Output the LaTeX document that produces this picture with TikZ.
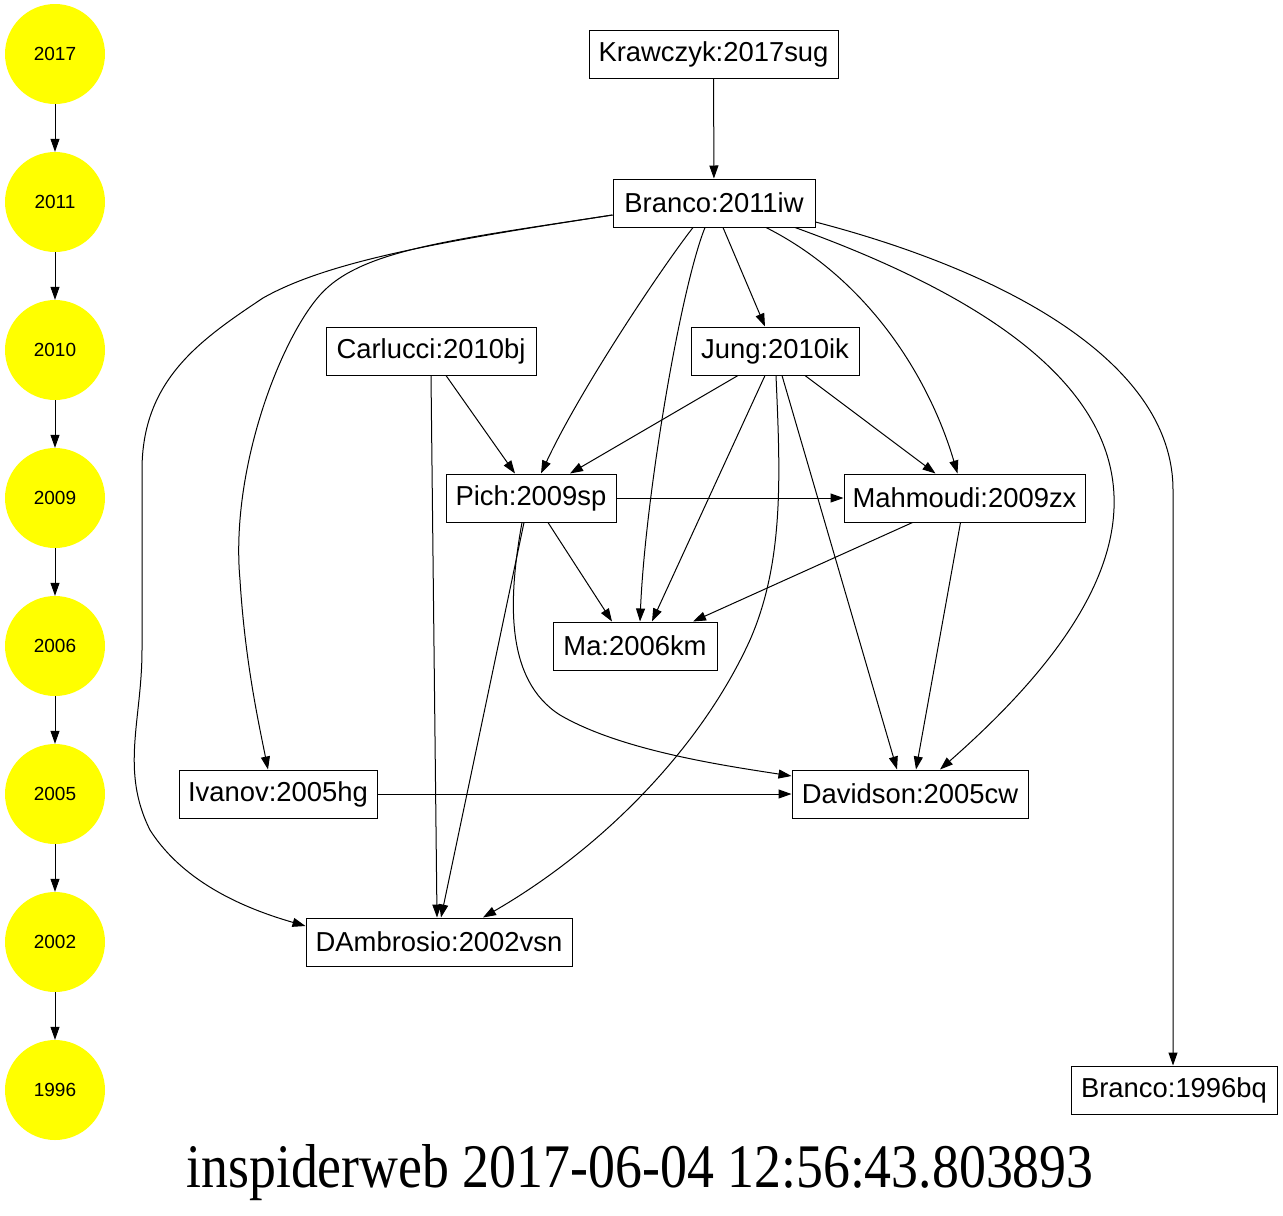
\documentclass[tikz,border=0pt]{standalone}
\usepackage{fontspec}
\setmainfont{Liberation Serif}
\newfontfamily\arialf{Liberation Sans}
\usetikzlibrary{arrows.meta}
\definecolor{ylw}{RGB}{255,255,0}
\tikzset{
  paper/.style={draw=black, line width=1pt, fill=white, minimum height=48pt, inner sep=0pt,
    font=\arialf\fontsize{27.4}{30}\selectfont},
  yearnode/.style={circle, fill=ylw, minimum size=100pt, inner sep=0pt,
    font=\arialf\fontsize{19}{22}\selectfont},
  edge/.style={line width=1pt, -{Triangle[length=13pt,width=9pt]}},
}
\begin{document}
\begin{tikzpicture}[x=1pt,y=-1pt]
\path[use as bounding box, fill=white] (0,0) rectangle (1283,1216);

% year column
\node[yearnode] (y2017) at (55,54) {2017};
\node[yearnode] (y2011) at (55,202) {2011};
\node[yearnode] (y2010) at (55,350) {2010};
\node[yearnode] (y2009) at (55,498) {2009};
\node[yearnode] (y2006) at (55,646) {2006};
\node[yearnode] (y2005) at (55,794) {2005};
\node[yearnode] (y2002) at (55,942) {2002};
\node[yearnode] (y1996) at (55,1090) {1996};
\draw[edge] (y2017) -- (y2011);
\draw[edge] (y2011) -- (y2010);
\draw[edge] (y2010) -- (y2009);
\draw[edge] (y2009) -- (y2006);
\draw[edge] (y2006) -- (y2005);
\draw[edge] (y2005) -- (y2002);
\draw[edge] (y2002) -- (y1996);

% papers
\node[paper, minimum width=249pt] (kraw) at (713.5,54.5) {Krawczyk:2017sug};
\node[paper, minimum width=202pt] (br11) at (714,203) {Branco:2011iw};
\node[paper, minimum width=210pt] (carl) at (431,351) {Carlucci:2010bj};
\node[paper, minimum width=168pt] (jung) at (775,351) {Jung:2010ik};
\node[paper, minimum width=170pt] (pich) at (531,498) {Pich:2009sp};
\node[paper, minimum width=241pt] (mahm) at (964.5,498) {Mahmoudi:2009zx};
\node[paper, minimum width=164pt] (ma) at (635,646) {Ma:2006km};
\node[paper, minimum width=198pt] (ivan) at (278,794) {Ivanov:2005hg};
\node[paper, minimum width=236pt] (dav) at (910,794) {Davidson:2005cw};
\node[paper, minimum width=266pt] (damb) at (439,942) {DAmbrosio:2002vsn};
\node[paper, minimum width=206pt] (br96) at (1174,1090) {Branco:1996bq};

% edges
\draw[edge] (kraw) -- (br11);
\draw[edge] ([xshift=9pt]br11.south) -- ([xshift=-10pt]jung.north);
\draw[edge] ([xshift=-21pt]br11.south) .. controls (660,270) and (580,390) .. ([xshift=10pt]pich.north);
\draw[edge] ([xshift=-9pt]br11.south) .. controls (680,290) and (645,500) .. ([xshift=5pt]ma.north);
\draw[edge] ([xshift=52pt]br11.south) .. controls (870,280) and (930,380) .. ([xshift=-7pt]mahm.north);
\draw[edge] ([xshift=81pt]br11.south) .. controls (1190,370) and (1190,550) .. ([xshift=30pt]dav.north);
\draw[edge] ([yshift=-19pt]br11.east) .. controls (1000,270) and (1173,360) .. (1173,490) -- (br96.north -| 1173,0);
\draw[edge] ([yshift=-12pt]br11.west) .. controls (450,240) and (360,250) .. (320,295)
   .. controls (280,340) and (230,470) .. (240,580) .. controls (245,660) and (258,720) .. ([xshift=-10pt]ivan.north);
\draw[edge] ([yshift=-12pt]br11.west) .. controls (450,240) and (330,260) .. (263,298)
   .. controls (200,340) and (142,380) .. (142,470) -- (142,650)
   .. controls (142,720) and (120,770) .. (150,830) .. controls (185,885) and (250,910) .. ([yshift=16pt]damb.west);

\draw[edge] ([xshift=15pt]carl.south) -- ([xshift=-16pt]pich.north);
\draw[edge] (carl.south) -- ([xshift=-2pt]damb.north);

\draw[edge] ([xshift=-37pt]jung.south) -- ([xshift=39pt]pich.north);
\draw[edge] ([xshift=-10pt]jung.south) -- ([xshift=17pt]ma.north);
\draw[edge] ([xshift=30pt]jung.south) -- ([xshift=-29pt]mahm.north);
\draw[edge] ([xshift=7pt]jung.south) -- ([xshift=-13pt]dav.north);
\draw[edge] ([xshift=1pt]jung.south) .. controls (780,470) and (785,560) .. (750,640)
   .. controls (700,750) and (600,850) .. ([xshift=44pt]damb.north);

\draw[edge] (pich.east) -- (mahm.west);
\draw[edge] ([xshift=17pt]pich.south) -- ([xshift=-23pt]ma.north);
\draw[edge] ([xshift=-9pt]pich.south) .. controls (508,600) and (505,680) .. (560,715)
   .. controls (620,750) and (720,765) .. ([yshift=18pt]dav.west);
\draw[edge] ([xshift=-7pt]pich.south) -- ([xshift=2pt]damb.north);

\draw[edge] ([xshift=-52pt]mahm.south) -- ([xshift=58pt]ma.north);
\draw[edge] ([xshift=-4pt]mahm.south) -- ([xshift=6pt]dav.north);

\draw[edge] (ivan.east) -- (dav.west);

% title
\node[anchor=base, inner sep=0pt] (title) at (640,1187)
  {\scalebox{0.868}[1]{\fontsize{62}{70}\selectfont inspiderweb 2017-06-04 12:56:43.803893}};
\end{tikzpicture}
\end{document}
